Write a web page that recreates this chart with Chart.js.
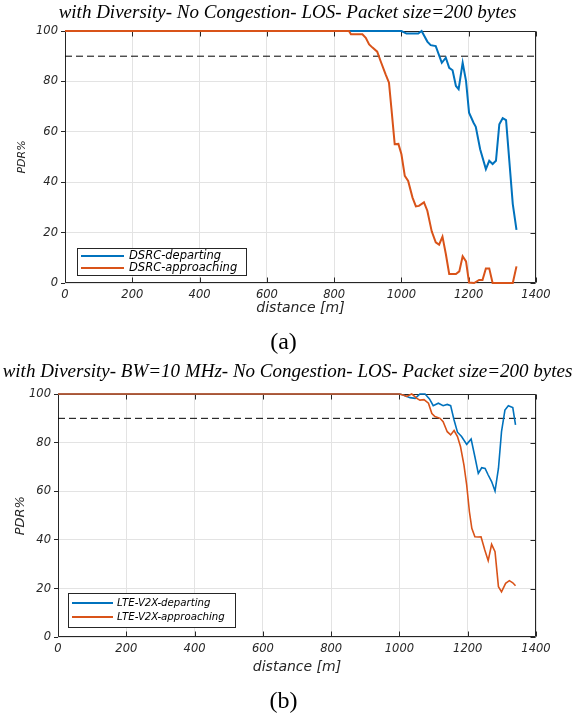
<!DOCTYPE html>
<html><head><meta charset="utf-8">
<script src="https://cdn.jsdelivr.net/npm/chart.js@4/dist/chart.umd.min.js"></script>
<style>
html,body{margin:0;padding:0;background:#fff;width:575px;height:713px;overflow:hidden;}
#wrap{position:relative;width:575px;height:713px;}
canvas{position:absolute;left:0;}
#c1{top:0}
#c2{top:356px}
.cap{position:absolute;width:575px;text-align:center;font-family:'Liberation Serif','Times New Roman',serif;font-size:24px;color:#000;line-height:28px;}
</style></head><body>
<div id="wrap">
<canvas id="c1" width="575" height="356"></canvas>
<canvas id="c2" width="575" height="357"></canvas>
<div class="cap" style="top:327px;left:-4px">(a)</div>
<div class="cap" style="top:686px;left:-4px">(b)</div>
</div>
<script>
// ---------- data ----------
const titleA = 'with Diversity- No Congestion- LOS- Packet size=200 bytes';
const titleB = 'with Diversity- BW=10 MHz- No Congestion- LOS- Packet size=200 bytes';
const xLabel = 'distance [m]';
const yLabel = 'PDR%';
const xTicks = [0, 200, 400, 600, 800, 1000, 1200, 1400];
const xTickLabels = ['0', '200', '400', '600', '800', '1000', '1200', '1400'];
const yTicks = [0, 20, 40, 60, 80, 100];
const yTickLabels = ['0', '20', '40', '60', '80', '100'];
const threshold = 90;

const labelDsrcDep = 'DSRC-departing';
const labelDsrcApp = 'DSRC-approaching';
const labelLteDep = 'LTE-V2X-departing';
const labelLteApp = 'LTE-V2X-approaching';

const distDsrcDep = [0, 1000, 1015, 1050, 1060, 1077, 1087, 1102, 1120, 1132, 1142, 1152, 1162, 1170, 1182, 1192, 1201, 1214, 1221, 1234, 1251, 1261, 1271, 1281, 1291, 1301, 1311, 1331, 1342];
const pdrDsrcDep  = [100, 100, 99, 99, 100, 95.8, 94.4, 94, 87.4, 89.4, 85.4, 84.4, 78.2, 76.9, 87.4, 80.2, 67.6, 63.7, 62, 53.1, 45.2, 48.5, 47.2, 48.5, 63, 65.4, 64.6, 31.3, 21.1];

const distDsrcApp = [0, 844, 850, 884, 894, 904, 914, 928, 938, 953, 963, 970, 980, 991, 1000, 1010, 1020, 1033, 1043, 1052, 1067, 1077, 1090, 1102, 1112, 1122, 1132, 1142, 1162, 1172, 1182, 1192, 1201, 1216, 1231, 1241, 1251, 1261, 1271, 1331, 1342];
const pdrDsrcApp  = [100, 100, 98.7, 98.7, 97.3, 94.7, 93.4, 91.8, 88.1, 82.8, 79.5, 69.6, 55.1, 55.2, 51.1, 42.5, 40.5, 33.9, 30.4, 30.6, 32, 28.7, 20.5, 16.1, 15.2, 18.4, 11.5, 3.6, 3.6, 4.6, 10.6, 8.6, 0.2, 0, 1.2, 1.2, 5.8, 5.8, 0, 0, 6.6];

const distLteDep = [0, 1000, 1011, 1031, 1046, 1060, 1075, 1088, 1099, 1114, 1128, 1140, 1150, 1160, 1170, 1182, 1197, 1210, 1221, 1231, 1241, 1251, 1260, 1270, 1280, 1290, 1299, 1309, 1319, 1332, 1340];
const pdrLteDep  = [100, 100, 99.6, 98.5, 98.2, 100, 100, 98, 95.2, 96.2, 95.2, 95.7, 95.2, 89.3, 84.3, 82.5, 79.3, 81.5, 74.2, 67.4, 69.7, 69.4, 66.7, 64, 60.1, 69.4, 84.5, 93.4, 95.2, 94.4, 87.3];

const distLteApp = [0, 1000, 1011, 1021, 1036, 1051, 1060, 1072, 1085, 1095, 1104, 1119, 1128, 1140, 1150, 1160, 1170, 1179, 1189, 1197, 1205, 1212, 1221, 1231, 1239, 1250, 1260, 1270, 1280, 1290, 1299, 1311, 1322, 1332, 1340];
const pdrLteApp  = [100, 100, 99.6, 99, 100, 98.2, 97.5, 97.7, 96.2, 92, 90.7, 90, 88.6, 84.5, 83.2, 85, 82.5, 78.3, 70.8, 62.6, 51.6, 44.8, 41.3, 41.2, 41.3, 35.9, 31.5, 38.2, 35.2, 20.8, 18.7, 22.2, 23.3, 22.4, 21.2];

// ---------- styling ----------
const BLUE = '#0072BD', ORANGE = '#D95319', AXIS = '#262626', GRID = '#e3e3e3';
const SANS = "'DejaVu Sans', sans-serif";
const SERIF = "'Liberation Serif', 'Times New Roman', serif";

const pts = (xs, ys) => xs.map((x, i) => ({x: x, y: ys[i]}));

const framePlugin = {
  id: 'frame',
  beforeDatasetsDraw(chart) {
    const {ctx, chartArea: a, scales} = chart;
    ctx.save();
    ctx.strokeStyle = AXIS; ctx.lineWidth = 1;
    const L = Math.round(a.left) + 0.5, R = Math.round(a.right) - 0.5;
    const T = Math.round(a.top) + 0.5, B = Math.round(a.bottom) - 0.5;
    ctx.beginPath();
    ctx.rect(L, T, R - L, B - T);
    scales.x.ticks.forEach(t => {
      const px = Math.round(scales.x.getPixelForValue(t.value)) + 0.5;
      ctx.moveTo(px, B); ctx.lineTo(px, B - 5);
      ctx.moveTo(px, T); ctx.lineTo(px, T + 5);
    });
    scales.y.ticks.forEach(t => {
      const py = Math.round(scales.y.getPixelForValue(t.value)) + 0.5;
      ctx.moveTo(R, py); ctx.lineTo(R - 5, py);
    });
    ctx.stroke();
    ctx.restore();
  }
};

const legendPlugin = {
  id: 'boxLegend',
  afterDatasetsDraw(chart, args, o) {
    const ctx = chart.ctx;
    ctx.save();
    ctx.fillStyle = '#fff';
    ctx.fillRect(o.x, o.y, o.w, o.h);
    ctx.strokeStyle = AXIS; ctx.lineWidth = 1;
    ctx.strokeRect(o.x + 0.5, o.y + 0.5, o.w, o.h);
    ctx.font = 'italic ' + o.fontSize + 'px ' + SANS;
    ctx.textBaseline = 'middle';
    ctx.textAlign = 'left';
    let row = 0;
    chart.data.datasets.forEach(ds => {
      if (ds.noLegend) return;
      const yy = o.y + o.firstRow + row * o.rowGap;
      ctx.strokeStyle = ds.borderColor; ctx.lineWidth = 2;
      ctx.beginPath(); ctx.moveTo(o.x + o.line0, yy); ctx.lineTo(o.x + o.line1, yy); ctx.stroke();
      ctx.fillStyle = '#000';
      ctx.fillText(ds.label, o.x + o.textX, yy);
      row++;
    });
    ctx.restore();
  }
};

function makeChart(id, cfg) {
  const tickFont = {family: SANS, style: 'italic', size: 11.5};
  return new Chart(document.getElementById(id), {
    type: 'line',
    data: {
      datasets: [
        {label: cfg.depLabel, data: pts(cfg.depX, cfg.depY), borderColor: BLUE, borderWidth: cfg.lw, pointRadius: 0, tension: 0, order: 2, clip: 4},
        {label: cfg.appLabel, data: pts(cfg.appX, cfg.appY), borderColor: ORANGE, borderWidth: cfg.lw, pointRadius: 0, tension: 0, order: 1, clip: 4},
        {label: 'threshold', noLegend: true, data: pts([xTicks[0], xTicks[xTicks.length - 1]], [threshold, threshold]), borderColor: '#000', borderWidth: 1, borderDash: [7, 4], pointRadius: 0, order: 3}
      ]
    },
    options: {
      responsive: false, animation: false, events: [],
      layout: {padding: {left: 0, right: 0, top: 0, bottom: cfg.padBottom}},
      plugins: {
        legend: {display: false},
        tooltip: {enabled: false},
        title: {display: true, text: cfg.title, color: '#000',
          font: {family: SERIF, style: 'italic', weight: 'normal', size: 19, lineHeight: 1.2},
          padding: {top: cfg.titleTop, bottom: cfg.titleBottom}},
        boxLegend: cfg.legend
      },
      scales: {
        x: {type: 'linear', min: xTicks[0], max: xTicks[xTicks.length - 1],
          afterBuildTicks: s => { s.ticks = xTicks.map(v => ({value: v})); },
          afterFit: s => { s.height = cfg.xH; },
          grid: {color: GRID, drawTicks: false},
          border: {display: false},
          ticks: {font: tickFont, color: AXIS, padding: 5, maxRotation: 0, autoSkip: false,
            callback: (v, i) => xTickLabels[i]},
          title: {display: true, text: xLabel, color: AXIS, font: {family: SANS, style: 'italic', size: 14, lineHeight: 1.2}, padding: {top: 0, bottom: cfg.xTitlePad}}
        },
        y: {type: 'linear', position: 'left', min: yTicks[0], max: yTicks[yTicks.length - 1],
          afterBuildTicks: s => { s.ticks = yTicks.map(v => ({value: v})); },
          afterFit: s => { s.width = cfg.yW; },
          grid: {color: GRID, drawTicks: true, tickLength: 4, tickColor: AXIS},
          border: {display: false},
          ticks: {font: tickFont, color: AXIS, padding: 3, callback: (v, i) => yTickLabels[i]},
          title: {display: true, text: yLabel, color: AXIS, font: {family: SANS, style: 'italic', size: cfg.yTitleSize, lineHeight: 1.2}, padding: {top: cfg.yTitlePad, bottom: 0}}
        },
        yRight: {type: 'linear', position: 'right', min: yTicks[0], max: yTicks[yTicks.length - 1],
          afterFit: s => { s.width = 39; },
          grid: {display: false, drawTicks: false},
          border: {display: false},
          ticks: {display: false}
        }
      }
    },
    plugins: [framePlugin, legendPlugin]
  });
}

makeChart('c1', {
  title: titleA, titleTop: 1.6, titleBottom: 6.6,
  depLabel: labelDsrcDep, depX: distDsrcDep, depY: pdrDsrcDep,
  appLabel: labelDsrcApp, appX: distDsrcApp, appY: pdrDsrcApp,
  lw: 2, yW: 65, xH: 35, xTitlePad: 1.6, padBottom: 38,
  yTitleSize: 11, yTitlePad: 15.4,
  legend: {x: 77, y: 248, w: 169, h: 27, firstRow: 8, rowGap: 12, line0: 4, line1: 47, textX: 52, fontSize: 11.5}
});

makeChart('c2', {
  title: titleB, titleTop: 4.6, titleBottom: 10.6,
  depLabel: labelLteDep, depX: distLteDep, depY: pdrLteDep,
  appLabel: labelLteApp, appX: distLteApp, appY: pdrLteApp,
  lw: 1.6, yW: 58, xH: 40, xTitlePad: 1.9, padBottom: 35.7,
  yTitleSize: 13, yTitlePad: 13.2,
  legend: {x: 68, y: 237, w: 167, h: 34, firstRow: 10, rowGap: 14, line0: 4, line1: 45, textX: 49, fontSize: 10.2}
});
</script>
</body></html>
